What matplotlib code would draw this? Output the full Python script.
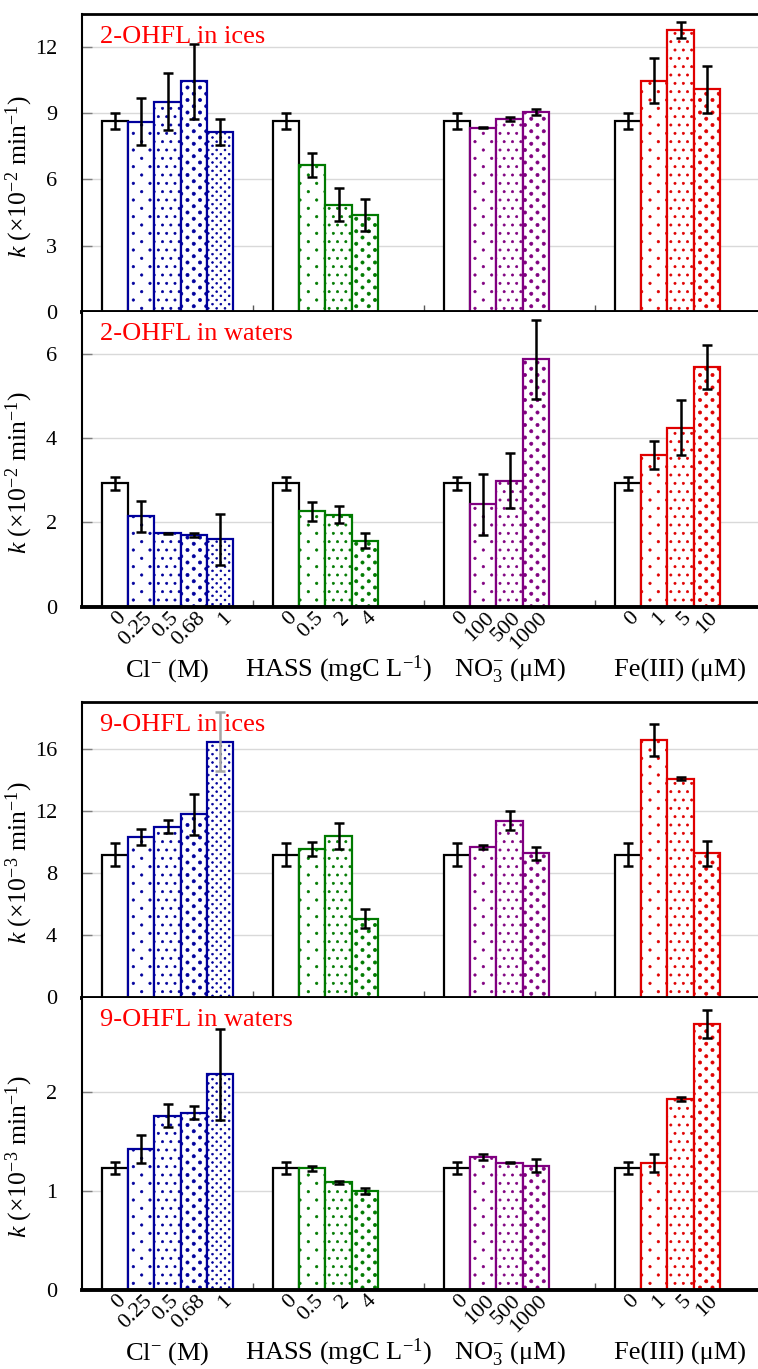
import numpy as np
import matplotlib
matplotlib.use("Agg")
import matplotlib.pyplot as plt
import matplotlib.hatch as mhatch
from matplotlib.path import Path

plt.rcParams["font.family"] = ["Liberation Serif", "DejaVu Serif"]
plt.rcParams["mathtext.fontset"] = "custom"
plt.rcParams["mathtext.rm"] = "Liberation Serif"
plt.rcParams["mathtext.it"] = "Liberation Serif:italic"
plt.rcParams["hatch.linewidth"] = 0.5

# ---- data ----
group_labels = ["Cl$^{-}$ (M)", "HASS (mgC L$^{-1}$)", "NO$_3^{-}$ (μM)", "Fe(III) (μM)"]
tick_labels = [["0", "0.25", "0.5", "0.68", "1"],
               ["0", "0.5", "2", "4"],
               ["0", "100", "500", "1000"],
               ["0", "1", "5", "10"]]
group_colors = ["#00009C", "#007A00", "#800080", "#E00000"]

k_2ohfl_ice = [[8.66, 8.61, 9.52, 10.44, 8.14],
               [8.66, 6.66, 4.86, 4.38],
               [8.66, 8.35, 8.75, 9.05],
               [8.66, 10.48, 12.78, 10.08]]
err_2ohfl_ice = [[0.36, 1.06, 1.30, 1.69, 0.60],
                 [0.36, 0.53, 0.76, 0.73],
                 [0.36, 0.03, 0.10, 0.12],
                 [0.36, 1.01, 0.37, 1.07]]

k_2ohfl_water = [[2.93, 2.15, 1.74, 1.71, 1.60],
                 [2.93, 2.26, 2.18, 1.57],
                 [2.93, 2.43, 2.99, 5.87],
                 [2.93, 3.60, 4.25, 5.69]]
err_2ohfl_water = [[0.15, 0.37, 0.02, 0.05, 0.60],
                   [0.15, 0.23, 0.20, 0.18],
                   [0.15, 0.73, 0.65, 0.94],
                   [0.15, 0.34, 0.65, 0.52]]

k_9ohfl_ice = [[9.20, 10.31, 11.00, 11.79, 16.46],
               [9.20, 9.56, 10.40, 5.08],
               [9.20, 9.69, 11.38, 9.28],
               [9.20, 16.59, 14.08, 9.28]]
err_9ohfl_ice = [[0.72, 0.51, 0.43, 1.32, 1.90],
                 [0.72, 0.43, 0.81, 0.61],
                 [0.72, 0.10, 0.62, 0.43],
                 [0.72, 1.03, 0.10, 0.81]]

k_9ohfl_water = [[1.228, 1.423, 1.758, 1.789, 2.174],
                 [1.228, 1.228, 1.087, 1.003],
                 [1.228, 1.339, 1.282, 1.252],
                 [1.228, 1.282, 1.926, 2.681]]
err_9ohfl_water = [[0.060, 0.144, 0.114, 0.064, 0.455],
                   [0.060, 0.027, 0.015, 0.030],
                   [0.060, 0.030, 0.005, 0.066],
                   [0.060, 0.090, 0.017, 0.143]]

# error bar drawn in grey: (panel, group, bar)
grey_err = [(2, 0, 4)]

HATCHES = ["", ".", "..", "...", "...."]


class DotHatch(mhatch.HatchPatternBase):
    """Staggered filled dots; '.' count picks (rows, dots per row, radius)."""
    specs = {1: (12, 6, 0.012), 2: (12, 12, 0.011),
             3: (16, 8, 0.016), 4: (24, 12, 0.009)}

    def __init__(self, hatch, density):
        self.spec = self.specs.get(hatch.count("."))
        self.circle = Path.unit_circle()
        if self.spec is None:
            self.num_vertices = 0
        else:
            rows, cols, _ = self.spec
            ndots = sum(cols + 1 if i % 2 == 0 else cols for i in range(rows + 1))
            self.num_vertices = ndots * len(self.circle.vertices)

    def set_vertices_and_codes(self, vertices, codes):
        rows, cols, r = self.spec
        n = len(self.circle.vertices)
        k = 0
        for i in range(rows + 1):
            if i % 2 == 0:
                xs = np.arange(cols + 1) / cols
            else:
                xs = (np.arange(cols) + 0.5) / cols
            for xc in xs:
                vertices[k:k + n] = self.circle.vertices * r + (xc, i / rows)
                codes[k:k + n] = self.circle.codes
                k += n


mhatch._hatch_types = [t for t in mhatch._hatch_types
                       if t is not mhatch.SmallFilledCircles] + [DotHatch]

FIG_W, FIG_H = 758, 1369
panels = [
    dict(px=(14, 311.7), k=k_2ohfl_ice, err=err_2ohfl_ice, ylim=13.5,
         yticks=[0, 3, 6, 9, 12], title="2-OHFL in ices",
         ylabel="$k$ (×10$^{-2}$ min$^{-1}$)", top=True, xlab=False),
    dict(px=(311.7, 606.7), k=k_2ohfl_water, err=err_2ohfl_water, ylim=7,
         yticks=[0, 2, 4, 6], title="2-OHFL in waters",
         ylabel="$k$ (×10$^{-2}$ min$^{-1}$)", top=False, xlab=True),
    dict(px=(702.3, 997.5), k=k_9ohfl_ice, err=err_9ohfl_ice, ylim=19,
         yticks=[0, 4, 8, 12, 16], title="9-OHFL in ices",
         ylabel="$k$ (×10$^{-3}$ min$^{-1}$)", top=True, xlab=False),
    dict(px=(997.5, 1290), k=k_9ohfl_water, err=err_9ohfl_water, ylim=2.95,
         yticks=[0, 1, 2], title="9-OHFL in waters",
         ylabel="$k$ (×10$^{-3}$ min$^{-1}$)", top=False, xlab=True),
]

W = 1 / 6.5  # 5 bars + 150 % gap per category

fig = plt.figure(figsize=(FIG_W / 100, FIG_H / 100), dpi=100)

for p, pan in enumerate(panels):
    top, bottom = pan["px"]
    left, right = 82, 766
    ax = fig.add_axes([left / FIG_W, 1 - bottom / FIG_H,
                       (right - left) / FIG_W, (bottom - top) / FIG_H])
    for g in range(4):
        vals, errs = pan["k"][g], pan["err"][g]
        xs = g + 0.75 * W + W * (np.arange(len(vals)) + 0.5)
        for j, (x, v, e) in enumerate(zip(xs, vals, errs)):
            ec = "black" if j == 0 else group_colors[g]
            ax.bar(x, v, width=W, facecolor="white", edgecolor=ec,
                   linewidth=1.6, hatch=HATCHES[j], zorder=2)
            ecol = "#a6a6a6" if (p, g, j) in grey_err else "black"
            ax.errorbar(x, v, yerr=e, fmt="none", ecolor=ecol,
                        elinewidth=1.8, capsize=3.8, capthick=1.8, zorder=3)
        if pan["xlab"]:
            for x, lab in zip(xs, tick_labels[g]):
                ax.annotate(lab, xy=(x, 0), xycoords=("data", "axes fraction"),
                            xytext=(6, -6), textcoords="offset points",
                            rotation=45, rotation_mode="anchor",
                            ha="right", va="center", fontsize=16)
            ax.annotate(group_labels[g], xy=(g + 0.5, 0),
                        xycoords=("data", "axes fraction"),
                        xytext=(0, -50), textcoords="offset points",
                        ha="center", va="baseline", fontsize=19)

    ax.set_xlim(0, 4)
    ax.set_ylim(0, pan["ylim"])
    ax.set_yticks(pan["yticks"])
    ax.set_xticks([1, 2, 3])
    ax.set_xticklabels([])
    ax.tick_params(axis="x", direction="in", length=5, width=1, color="#595959")
    ax.tick_params(axis="y", direction="in", length=7, width=1, color="#7f7f7f",
                   labelsize=16, pad=18)
    ax.yaxis.grid(True, color="#d9d9d9", linewidth=1)
    ax.set_axisbelow(True)

    ax.spines["right"].set_visible(False)
    ax.spines["left"].set_linewidth(1.5)
    ax.spines["bottom"].set_linewidth(2.8)
    ax.spines["bottom"].set_zorder(4)
    if pan["top"]:
        ax.spines["top"].set_linewidth(2.0)
        ax.spines["top"].set_zorder(4)
    else:
        ax.spines["top"].set_visible(False)

    ax.text(0.026, 0.903, pan["title"], transform=ax.transAxes, color="red",
            fontsize=19, ha="left", va="baseline", zorder=5)
    ax.set_ylabel(pan["ylabel"], fontsize=18.5)
    ax.yaxis.set_label_coords(-0.068, 0.455)

fig.savefig("out.png", dpi=100)
